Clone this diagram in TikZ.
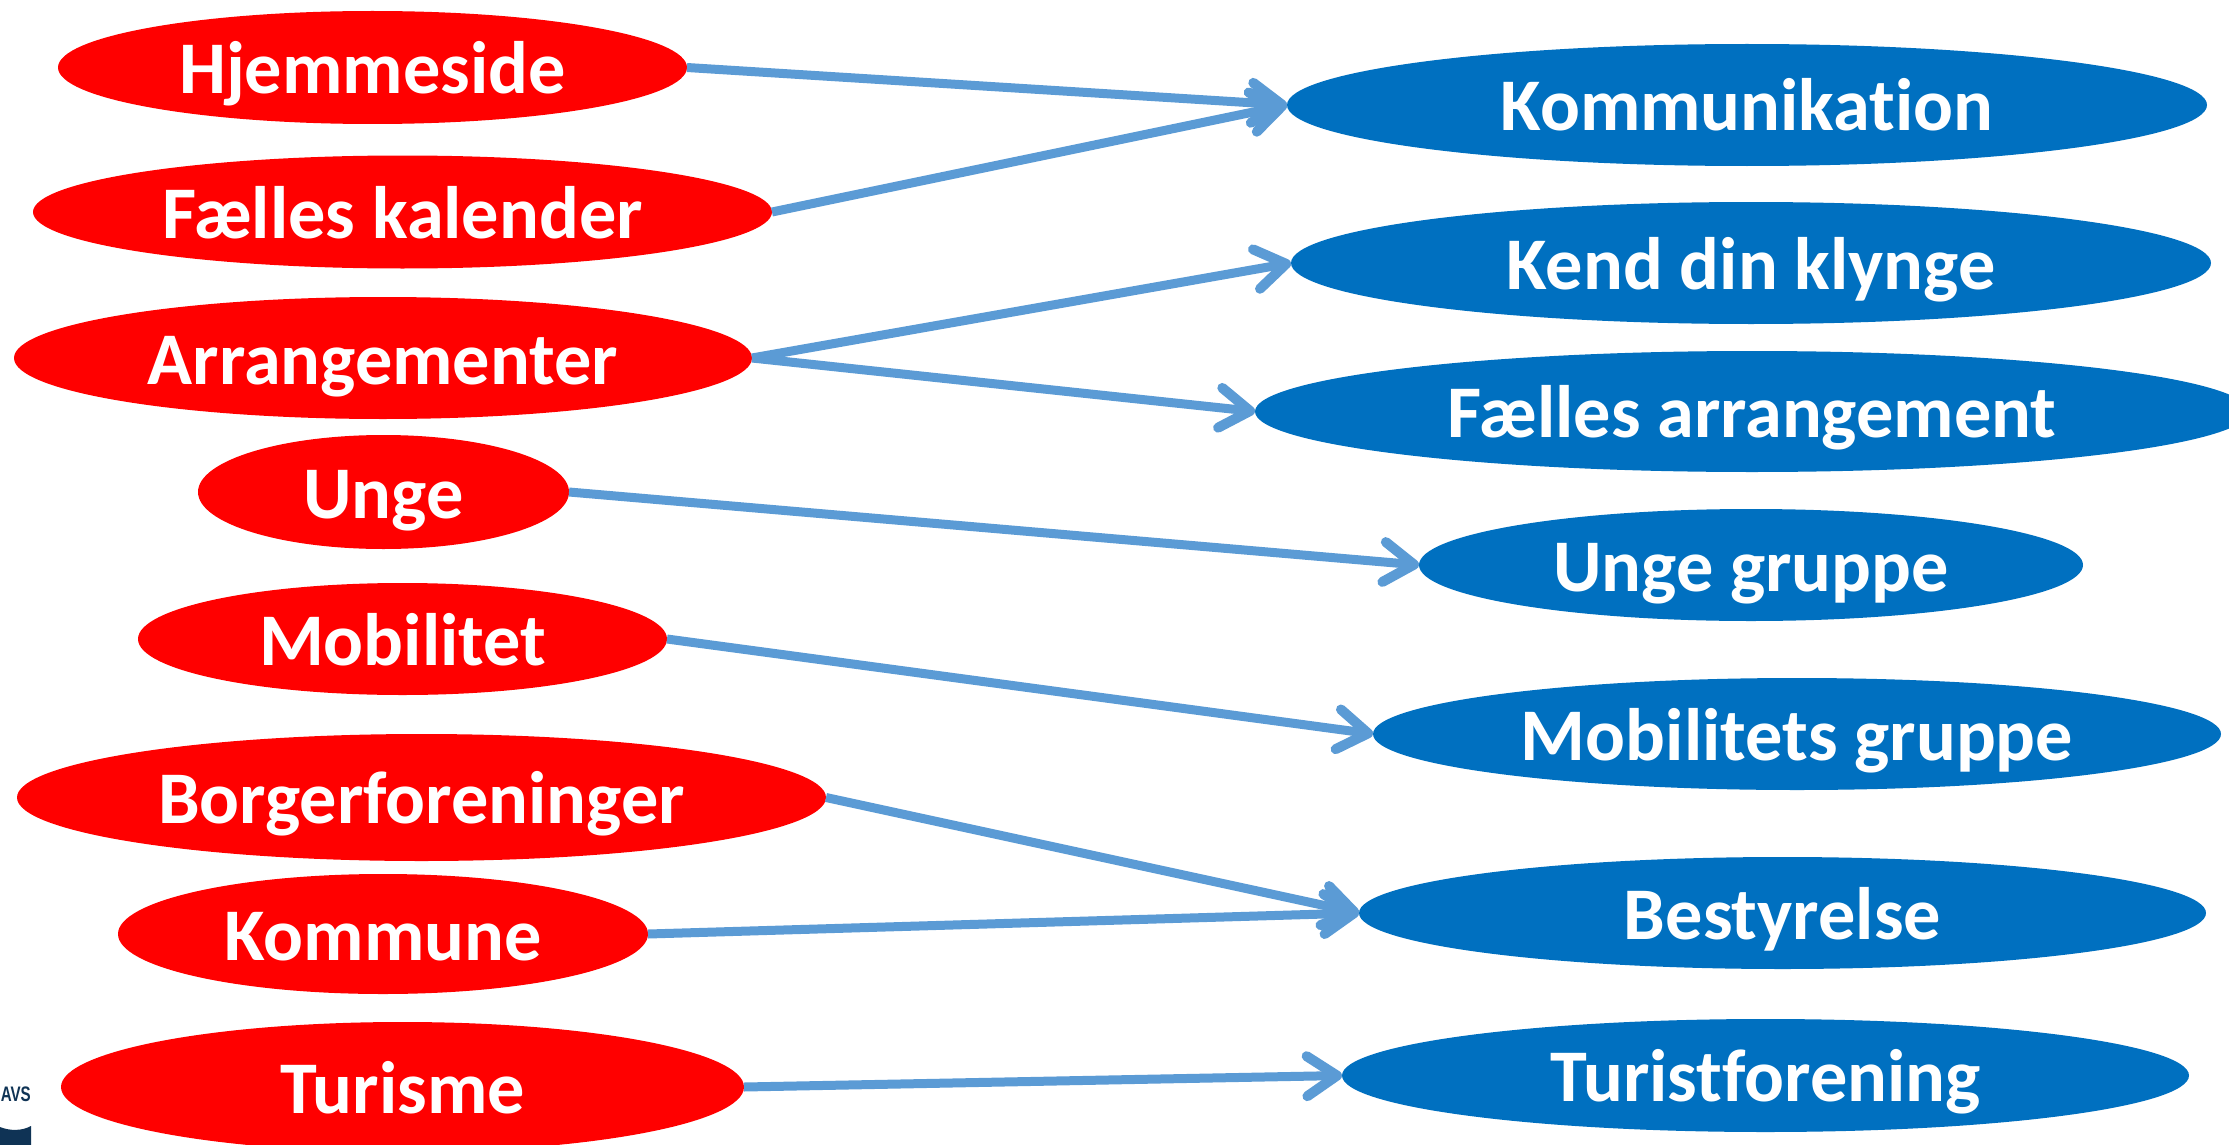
\documentclass[tikz,border=0pt]{standalone}
\usepackage{fontspec}
\setmainfont[Ligatures=NoCommon]{Carlito}
\newfontfamily\logofont[FakeStretch=0.72]{Liberation Sans}
\usetikzlibrary{shapes.geometric,arrows.meta}
\definecolor{redfill}{HTML}{FF0000}
\definecolor{bluefill}{HTML}{0070C0}
\definecolor{linkcol}{HTML}{5B9BD5}
\definecolor{navy}{HTML}{0F3355}
\tikzset{
  oval/.style={ellipse,inner sep=0pt,outer sep=0pt,text=white,align=center,
    font=\bfseries\fontsize{74.3}{74}\selectfont,text height=52pt,text depth=0pt},
  redoval/.style={oval,fill=redfill},
  blueoval/.style={oval,fill=bluefill},
  link/.style={draw=linkcol,line width=9pt,
    -{Straight Barb[length=30pt,width=40pt,line width=10pt,round]}},
  size/.style n args={2}{minimum width=#1pt,minimum height=#2pt}
}
\begin{document}
\begin{tikzpicture}[x=1pt,y=-1pt]
\useasboundingbox (0,0) rectangle (2229,1145);
\clip (0,0) rectangle (2229,1145);
\fill[white] (0,0) rectangle (2229,1145);
% logo fragment
\node[anchor=east,inner sep=0pt,text=navy,font=\logofont\bfseries\fontsize{21}{21}\selectfont] (logotext) at (31,1094) {AVS};
\fill[navy] (0,1127) .. controls (10,1131) and (22,1131) .. (31,1126) -- (31,1145) -- (0,1145) -- cycle;
% left ovals
\node[redoval,size={629}{113}] (hj) at (372.5,67.5) {Hjemmeside};
\node[redoval,size={739}{113}] (fk) at (402.5,212) {Fælles kalender};
\node[redoval,size={738}{122}] (ar) at (383,358) {Arrangementer};
\node[redoval,size={371}{114}] (un) at (383.5,492) {Unge};
\node[redoval,size={529}{112}] (mo) at (402.5,639) {Mobilitet};
\node[redoval,size={809}{127}] (bo) at (421.5,797.5) {Borgerforeninger};
\node[redoval,size={530}{120}] (ko) at (383,934) {Kommune};
\node[redoval,size={683}{130}] (tu) at (402.5,1087) {Turisme};
% right ovals
\node[blueoval,size={920}{122}] (kom) at (1747,105) {Kommunikation};
\node[blueoval,size={920}{122}] (ke) at (1751,263) {Kend din klynge};
\node[blueoval,size={994}{121}] (fa) at (1752,411.5) {Fælles arrangement};
\node[blueoval,size={664}{112}] (ug) at (1751,565) {Unge gruppe};
\node[blueoval,size={848}{112}] (mg) at (1797,734) {Mobilitets gruppe};
\node[blueoval,size={847}{112}] (be) at (1782.5,913) {Bestyrelse};
\node[blueoval,size={847}{113}] (tf) at (1765.5,1075.5) {Turistforening};
% connectors
\draw[link] (hj.east) -- (kom.west);
\draw[link] (fk.east) -- (kom.west);
\draw[link] (ar.east) -- (ke.west);
\draw[link] (ar.east) -- (fa.west);
\draw[link] (un.east) -- (ug.west);
\draw[link] (mo.east) -- (mg.west);
\draw[link] (bo.east) -- (be.west);
\draw[link] (ko.east) -- (be.west);
\draw[link] (tu.east) -- (tf.west);
\end{tikzpicture}
\end{document}
